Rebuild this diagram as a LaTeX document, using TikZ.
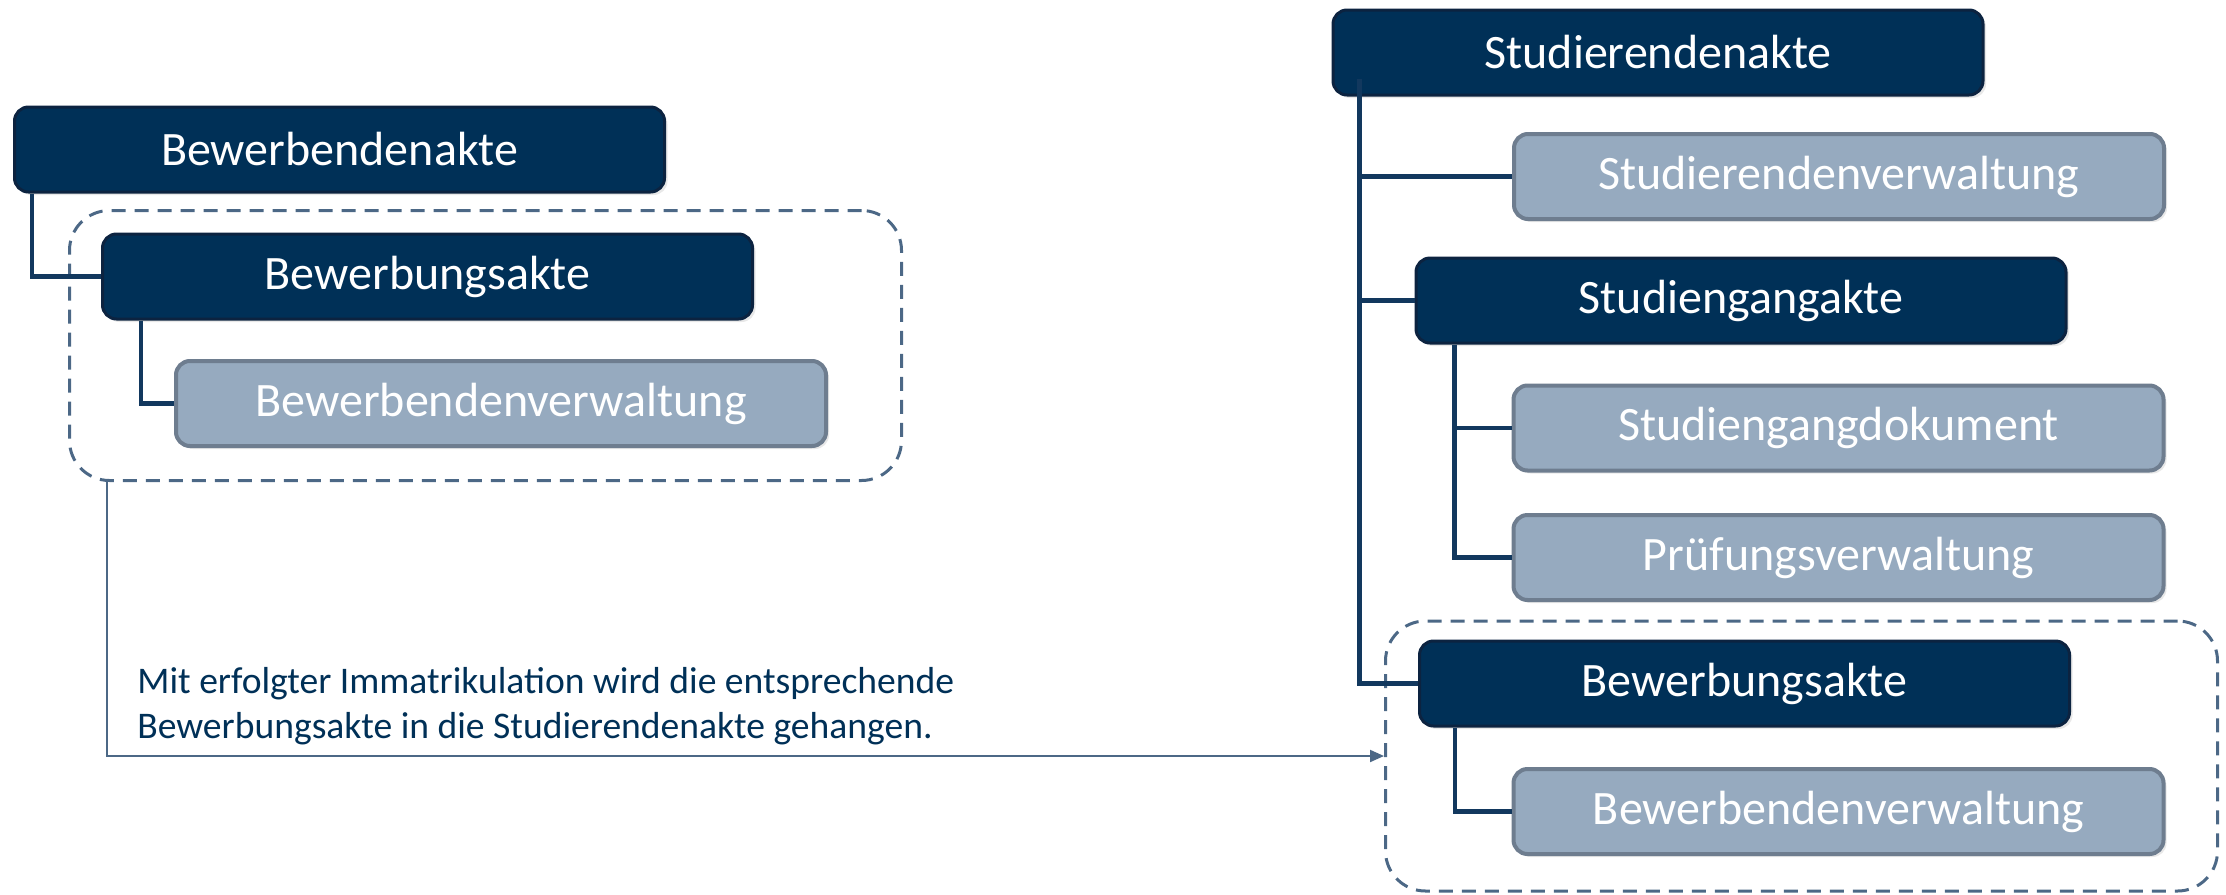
\documentclass[tikz,border=0pt]{standalone}
\usepackage{fontspec}
\setmainfont{Carlito}
\usetikzlibrary{arrows.meta,shadows}
\definecolor{navyfill}{RGB}{0,48,87}
\definecolor{navyedge}{RGB}{12,35,64}
\definecolor{lightfill}{RGB}{150,170,191}
\definecolor{lightedge}{RGB}{110,125,143}
\definecolor{conn}{RGB}{18,56,94}
\definecolor{dashc}{RGB}{76,104,134}
\definecolor{notec}{RGB}{0,48,87}
\begin{document}
\begin{tikzpicture}[x=0.5pt,y=-0.5pt,
  boxbase/.style={rectangle, rounded corners=7pt, minimum width=325pt, minimum height=42.5pt,
     text=white, font=\fontsize{24pt}{28pt}\selectfont, inner sep=0pt,
     drop shadow={shadow xshift=1.5pt, shadow yshift=-1.5pt, opacity=0.18}},
  darkbox/.style={boxbase, fill=navyfill, draw=navyedge, line width=1.5pt},
  lightbox/.style={boxbase, fill=lightfill, draw=lightedge, line width=2pt},
  groupbox/.style={rectangle, draw=dashc, line width=1.5pt, dash pattern=on 7pt off 4.5pt,
     rounded corners=20pt, minimum width=416pt, minimum height=135pt, inner sep=0pt},
  link/.style={draw=conn, line width=2.2pt},
  flow/.style={draw=dashc, line width=1pt, -{Triangle[length=7pt,width=6pt]}},
  note/.style={text=notec, font=\fontsize{18.8pt}{22.5pt}\selectfont, align=left, inner sep=0pt, anchor=north west}
]
\useasboundingbox (0,0) rectangle (2226,894);

% dashed groups
\node[groupbox] (g1) at (485.5,345.5) {};
\node[groupbox] (g2) at (1801.5,756) {};

% left tree
\node[darkbox] (bA) at (339.5,149.5) {Bewerbendenakte};
\node[darkbox] (bS1) at (427.5,276.5) {Bewerbungsakte};
\node[lightbox] (bV1) at (501,403.5) {Bewerbendenverwaltung};

% right tree
\node[darkbox] (sA) at (1658,52.5) {Studierendenakte};
\node[lightbox] (sV) at (1839,176.5) {Studierendenverwaltung};
\node[darkbox] (sG) at (1741,300.5) {Studiengangakte};
\node[lightbox] (sD) at (1838.5,428) {Studiengangdokument};
\node[lightbox] (pV) at (1838.5,557.5) {Prüfungsverwaltung};
\node[darkbox] (bS2) at (1744.5,683.5) {Bewerbungsakte};
\node[lightbox] (bV2) at (1838.5,811.5) {Bewerbendenverwaltung};

% connectors
\path[link] ([xshift=9.5pt]bA.south west) |- (bS1.west);
\path[link] ([xshift=20pt]bS1.south west) |- (bV1.west);
\path[link] ([xshift=14pt,yshift=9pt]sA.south west) |- (sV.west);
\path[link] ([xshift=14pt]sA.south west) |- (sG.west);
\path[link] ([xshift=14pt]sA.south west) |- (bS2.west);
\path[link] ([xshift=20pt]sG.south west) |- (sD.west);
\path[link] ([xshift=20pt]sG.south west) |- (pV.west);
\path[link] ([xshift=18.5pt]bS2.south west) |- (bV2.west);

% transfer arrow
\path[flow] ([xshift=19.5pt]g1.south west) |- (g2.west);
\node[note] (txt) at (137,667) {Mit erfolgter Immatrikulation wird die entsprechende\\Bewerbungsakte in die Studierendenakte gehangen.};
\end{tikzpicture}
\end{document}
